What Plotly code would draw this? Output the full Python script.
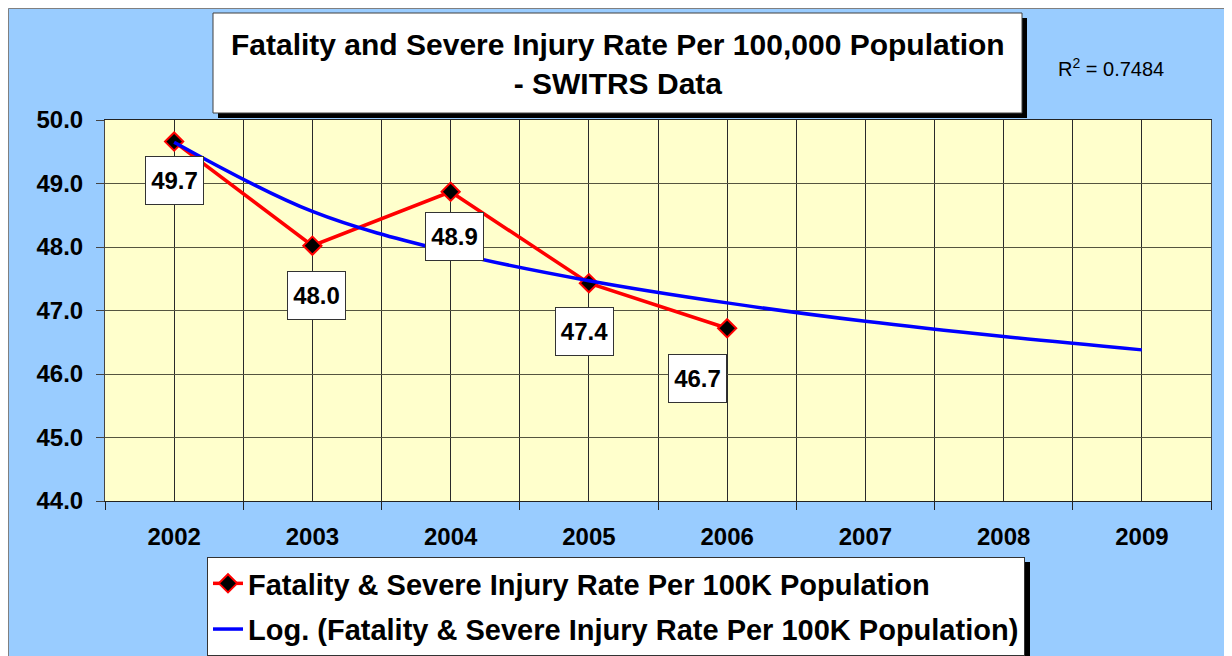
import plotly.graph_objects as go

# data
years = ["2002", "2003", "2004", "2005", "2006", "2007", "2008", "2009"]
rate = [49.66, 48.02, 48.87, 47.43, 46.72]
trend = [49.65, 48.56, 47.92, 47.47, 47.12, 46.83, 46.59, 46.38]
yTicks = [44, 45, 46, 47, 48, 49, 50]
rSquared = "0.7484"

FONT = "Liberation Sans, Arial, sans-serif"
# the page body adds an 8px margin, so the figure is 8px smaller
OFF = 8
W, H = 1232 - OFF, 656 - OFF
# plot area in screen pixels
L, R, T, B = 105, 1211, 120, 501


def px(x):
    return (x - L) / (R - L)


def py(y):
    return (B - y) / (B - T)


xIdx = list(range(len(years)))

fig = go.Figure()

fig.add_trace(
    go.Scatter(
        x=xIdx[: len(rate)],
        y=rate,
        mode="lines+markers",
        name="Fatality & Severe Injury Rate Per 100K Population",
        line=dict(color="#FF0000", width=3.5),
        marker=dict(symbol="diamond", size=14, color="black",
                    line=dict(color="#FF0000", width=2)),
        legendgroup="a",
    )
)
fig.add_trace(
    go.Scatter(
        x=xIdx,
        y=trend,
        mode="lines",
        name="Log. (Fatality & Severe Injury Rate Per 100K Population)",
        line=dict(color="#0000FF", width=3.5, shape="spline"),
        legendgroup="b",
    )
)

# data labels (pixel offsets from each point)
labelShift = [(0, -39), (4, -50), (4, -45), (-4, -48), (-30, -50)]
annotations = []
for i, v in enumerate(rate):
    dx, dy = labelShift[i]
    annotations.append(
        dict(
            x=i, y=v, xref="x", yref="y", text=f"<b>{v:.1f}</b>",
            showarrow=False, xshift=dx, yshift=dy,
            font=dict(family=FONT, size=24, color="black"),
            bgcolor="white", bordercolor="#333333", borderwidth=1,
            borderpad=3, width=51, height=41,
        )
    )

# title
annotations.append(
    dict(
        x=px(617.5), y=py(64), xref="paper", yref="paper",
        text="<b>Fatality and Severe Injury Rate Per 100,000 Population<br>- SWITRS Data</b>",
        showarrow=False, xanchor="center", yanchor="middle",
        font=dict(family=FONT, size=30, color="black"),
    )
)
annotations.append(
    dict(
        x=px(1111), y=py(68), xref="paper", yref="paper",
        text=f"R<sup>2</sup> = {rSquared}",
        showarrow=False, xanchor="center", yanchor="middle",
        font=dict(family=FONT, size=20, color="black"),
    )
)


def rect(x0, y0, x1, y1, **kw):
    return dict(type="rect", xref="paper", yref="paper",
                x0=px(x0), x1=px(x1), y0=py(y0), y1=py(y1), **kw)


shapes = [
    # grey frame
    rect(8.5, 8.5, 1240, 670, line=dict(color="#808080", width=1)),
    # title box with shadow
    rect(218, 18, 1027, 118, fillcolor="black", line=dict(width=0)),
    rect(213, 13, 1022, 113, fillcolor="white", line=dict(color="#404040", width=1)),
]

legendW, legendH = 818, 98
legendLeft, legendTop = 616 - legendW / 2, 557
shapes.append(
    rect(legendLeft + 5, legendTop + 5, legendLeft + legendW + 5, legendTop + legendH + 5,
         fillcolor="black", line=dict(width=0))
)

gridColor = "#2a2a2a"

fig.update_layout(
    width=W,
    height=H,
    margin=dict(l=L - OFF, r=1232 - R, t=T - OFF, b=656 - B, pad=0, autoexpand=False),
    paper_bgcolor="#99CCFF",
    plot_bgcolor="#FFFFCC",
    font=dict(family=FONT, color="black"),
    showlegend=True,
    legend=dict(
        x=px(legendLeft), y=py(legendTop), xanchor="left", yanchor="top",
        bgcolor="white", bordercolor="#333333", borderwidth=1,
        font=dict(family=FONT, size=29, color="black", weight="bold"),
        tracegroupgap=5, traceorder="grouped",
    ),
    xaxis=dict(
        range=[-0.5, 7.5],
        tickmode="array",
        tickvals=xIdx,
        ticktext=[f"<b>{y}</b>" for y in years],
        ticks="",
        showgrid=True,
        gridcolor=gridColor,
        gridwidth=1,
        showline=True,
        linecolor="#222222",
        mirror=True,
        zeroline=False,
        ticklabelstandoff=14,
        tickfont=dict(family=FONT, size=24, color="black"),
        minor=dict(
            tickmode="array",
            tickvals=[i - 0.5 for i in range(len(years) + 1)],
            ticks="outside",
            ticklen=8,
            tickcolor="#222222",
            showgrid=True,
            gridcolor=gridColor,
        ),
    ),
    yaxis=dict(
        range=[yTicks[0], yTicks[-1]],
        tickmode="array",
        tickvals=yTicks,
        ticktext=[f"<b>{v:.1f}</b>" for v in yTicks],
        ticks="outside",
        ticklen=8,
        tickcolor="#444444",
        showgrid=True,
        gridcolor="#55553f",
        showline=True,
        linecolor="#444444",
        mirror=True,
        zeroline=False,
        ticklabelstandoff=8,
        tickfont=dict(family=FONT, size=24, color="black"),
    ),
    annotations=annotations,
    shapes=shapes,
)

fig.write_html("out.html")
